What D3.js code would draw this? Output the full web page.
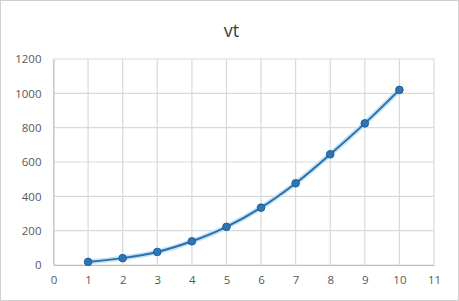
<!DOCTYPE html>
<html lang="en">
<head>
    <title>vt</title>
    <style>
        body { margin: 0; background: #fff; }
        text { font-family: "Open Sans", "Liberation Sans", "DejaVu Sans", sans-serif; }
        .tick text { fill: #595959; font-size: 11.5px; }
        .grid line { stroke: #d9d9d9; stroke-width: 1.2; }
    </style>
    <script src="https://cdn.jsdelivr.net/npm/d3@7"></script>
</head>
<body>
    <svg></svg>
    <script>
        // data
        var tValues = [1, 2, 3, 4, 5, 6, 7, 8, 9, 10];
        var vtValues = [18, 40, 76, 138, 222, 334, 476, 645, 825, 1020];
        var xTicks = [0, 1, 2, 3, 4, 5, 6, 7, 8, 9, 10, 11];
        var yTicks = [0, 200, 400, 600, 800, 1000, 1200];
        var title = "vt";

        var W = 459, H = 301;
        var margin = {top: 59, right: 25, bottom: 36, left: 53.5},
            width = 434 - margin.left,
            height = 265 - margin.top;

        var x = d3.scaleLinear().domain([0, 11]).range([0, width]);
        var y = d3.scaleLinear().domain([0, 1200]).range([height, 0]);

        var root = d3.select("svg").attr("width", W).attr("height", H);

        // outer frame
        root.append("rect")
            .attr("x", 0.5).attr("y", 0.5)
            .attr("width", W - 1).attr("height", H - 1)
            .attr("fill", "#fff").attr("stroke", "#d0d0d0");

        root.append("text")
            .attr("x", W / 2 + 2).attr("y", 37)
            .attr("text-anchor", "middle")
            .attr("font-size", "18px")
            .attr("fill", "#404040")
            .text(title);

        var svg = root.append("g")
            .attr("transform", "translate(" + margin.left + "," + margin.top + ")");

        // grid
        svg.append("g").attr("class", "grid")
            .selectAll("line.h").data(yTicks).enter().append("line")
            .attr("x1", 0).attr("x2", width)
            .attr("y1", function(d) { return y(d); })
            .attr("y2", function(d) { return y(d); });
        svg.append("g").attr("class", "grid")
            .selectAll("line.v").data(xTicks).enter().append("line")
            .attr("y1", 0).attr("y2", height)
            .attr("x1", function(d) { return x(d); })
            .attr("x2", function(d) { return x(d); });

        // axes
        var xAxis = svg.append("g")
            .attr("transform", "translate(0," + height + ")")
            .call(d3.axisBottom(x).tickValues(xTicks).tickFormat(d3.format("d"))
                .tickSize(0).tickPadding(11));
        xAxis.select(".domain").attr("stroke", "#bfbfbf");
        var yAxis = svg.append("g")
            .call(d3.axisLeft(y).tickValues(yTicks).tickFormat(d3.format("d"))
                .tickSize(0).tickPadding(12));
        yAxis.select(".domain").attr("stroke", "#bfbfbf");

        var data = tValues.map(function(t, i) { return {t: t, v: vtValues[i]}; });

        var line = d3.line()
            .x(function(d) { return x(d.t); })
            .y(function(d) { return y(d.v); })
            .curve(d3.curveMonotoneX);

        svg.append("path").datum(data)
            .attr("fill", "none")
            .attr("stroke", "#bfe3fa")
            .attr("stroke-width", 5)
            .attr("d", line);
        svg.append("path").datum(data)
            .attr("fill", "none")
            .attr("stroke", "#2f6fa8")
            .attr("stroke-width", 2)
            .attr("d", line);

        svg.selectAll(".dot").data(data).enter().append("circle")
            .attr("class", "dot")
            .attr("cx", function(d) { return x(d.t); })
            .attr("cy", function(d) { return y(d.v); })
            .attr("r", 3.8)
            .attr("fill", "#2e75b6")
            .attr("stroke", "#1f5f9a")
            .attr("stroke-width", 1);
    </script>
</body>
</html>
